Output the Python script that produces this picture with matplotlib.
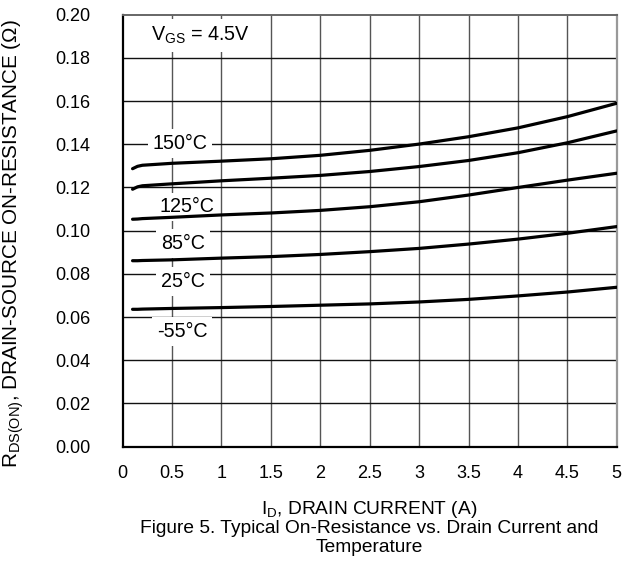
import matplotlib
matplotlib.use("Agg")
import matplotlib.pyplot as plt

plt.rcParams['font.family'] = ['Liberation Sans', 'DejaVu Sans']
plt.rcParams['mathtext.fontset'] = 'custom'
plt.rcParams['mathtext.rm'] = 'Liberation Sans'

FS = 13         # tick labels
FS_NOTE = 14.2  # curve labels
FS_YLAB = 14.9  # y axis title
FS_CAP = 13.8   # x axis title and caption

# drain current (A)
drain_current = [0.1, 0.15, 0.2, 0.5, 1.0, 1.5, 2.0, 2.5, 3.0, 3.5, 4.0, 4.5, 5.0]

# on-resistance (ohm), top to bottom
r_150 = [0.1287, 0.1298, 0.1303, 0.1312, 0.1322, 0.1333, 0.1349, 0.1372, 0.1401, 0.1435, 0.1476, 0.1528, 0.1590]
r_125 = [0.1192, 0.1203, 0.1208, 0.1217, 0.1231, 0.1243, 0.1256, 0.1274, 0.1297, 0.1325, 0.1361, 0.1407, 0.1462]
r_85 = [0.1053, 0.1054, 0.1056, 0.1062, 0.1073, 0.1082, 0.1094, 0.1111, 0.1134, 0.1165, 0.1200, 0.1234, 0.1266]
r_25 = [0.0861, 0.0861, 0.0862, 0.0865, 0.0873, 0.0880, 0.0890, 0.0903, 0.0918, 0.0938, 0.0961, 0.0988, 0.1019]
r_m55 = [0.0636, 0.0636, 0.0637, 0.0640, 0.0644, 0.0649, 0.0655, 0.0661, 0.0670, 0.0682, 0.0698, 0.0716, 0.0738]

temp_labels = ['150°C', '125°C', '85°C', '25°C', '-55°C']
label_x = [0.58, 0.65, 0.61, 0.61, 0.60]
label_y = [0.1404, 0.1110, 0.0942, 0.0764, 0.0532]

x_ticks = [0, 0.5, 1, 1.5, 2, 2.5, 3, 3.5, 4, 4.5, 5]
x_ticklabels = ['0', '0.5', '1', '1.5', '2', '2.5', '3', '3.5', '4', '4.5', '5']
y_ticks = [0.00, 0.02, 0.04, 0.06, 0.08, 0.10, 0.12, 0.14, 0.16, 0.18, 0.20]

fig = plt.figure(figsize=(6.35, 5.68), dpi=100)
ax = fig.add_axes([0.1932, 0.2136, 0.778, 0.7605])

ax.set_xlim(0, 5)
ax.set_ylim(0, 0.2)

# grid
for xv in x_ticks[1:-1]:
    ax.axvline(xv, color='#555555', lw=1.0, zorder=1)
for yv in y_ticks[1:-1]:
    ax.axhline(yv, color='#111111', lw=1.0, zorder=1)

for series in [r_150, r_125, r_85, r_25, r_m55]:
    ax.plot(drain_current, series, color='black', lw=2.3, solid_capstyle='round',
            solid_joinstyle='round', zorder=4)

for txt, lx, ly in zip(temp_labels, label_x, label_y):
    ax.text(lx, ly, txt, ha='center', va='center', fontsize=FS_NOTE, zorder=3,
            bbox=dict(boxstyle='square,pad=0.25', fc='white', ec='none'))

ax.text(0.79, 0.1905, r'$\mathregular{V_{GS}}$ = 4.5V', ha='center', va='center', fontsize=FS_NOTE, zorder=3,
        bbox=dict(boxstyle='square,pad=0.3', fc='white', ec='none'))

ax.set_xticks(x_ticks)
ax.set_xticklabels(x_ticklabels)
ax.set_yticks(y_ticks)
ax.set_yticklabels([f'{v:.2f}' for v in y_ticks])
ax.tick_params(axis='both', length=0, labelsize=FS)
ax.tick_params(axis='x', pad=13)
ax.tick_params(axis='y', pad=23)

ax.spines['left'].set_color('black')
ax.spines['bottom'].set_color('black')
ax.spines['left'].set_linewidth(1.6)
ax.spines['bottom'].set_linewidth(1.6)
ax.spines['top'].set_color('#666666')
ax.spines['right'].set_color('#999999')
ax.spines['top'].set_linewidth(1.4)
ax.spines['right'].set_linewidth(1.6)

fig.text(13 / 635, 1 - 244 / 568, r'R$_{\mathregular{DS(ON)}}$, DRAIN-SOURCE ON-RESISTANCE (Ω)',
         rotation=90, ha='center', va='center', fontsize=FS_YLAB)

fig.text(0.582, 1 - 514 / 568, r'I$_{\mathregular{D}}$, DRAIN CURRENT (A)', ha='center', va='baseline', fontsize=FS_CAP)
fig.text(0.582, 1 - 533 / 568, 'Figure 5. Typical On-Resistance vs. Drain Current and',
         ha='center', va='baseline', fontsize=FS_CAP)
fig.text(0.582, 1 - 552 / 568, 'Temperature', ha='center', va='baseline', fontsize=FS_CAP)

fig.savefig('out.png', dpi=100)
